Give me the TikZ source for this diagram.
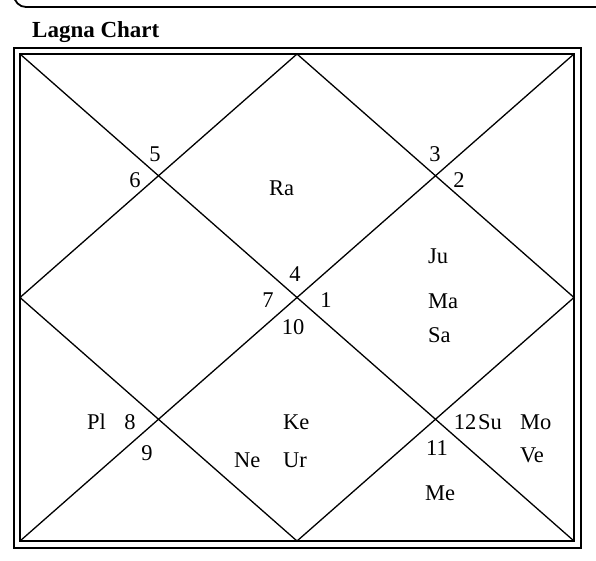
\documentclass[tikz,border=0pt]{standalone}
\usepackage{fontspec}
\setmainfont{Liberation Serif}
\usetikzlibrary{positioning}

\begin{document}
\begin{tikzpicture}[
			x=1pt, y=-1pt,
			node distance=0pt,
			frame/.style={draw, line width=1.3pt},
			chartline/.style={draw, line width=1.3pt, line cap=round},
			housenum/.style={inner sep=0pt, text height=15pt, text depth=0pt, font=\fontsize{22.5}{24}\selectfont},
			planet/.style={housenum, anchor=west},
			title/.style={inner sep=0pt, anchor=base west, font=\fontsize{23}{25}\selectfont\bfseries}
			]
			
			\useasboundingbox (0,0) rectangle (596,560);
			
			% Panel edge at the top
			\begin{scope}
				\clip (0,0) rectangle (596,560);
				\draw[line width=1.8pt, rounded corners=12pt] (14,-40) rectangle (640,7);
			\end{scope}
			
			% Title
			\node[title] (heading) at (32,37) {Lagna Chart};
			
			% Chart corners and side midpoints
			\coordinate (nw) at (20,54);
			\coordinate (ne) at (574,54);
			\coordinate (se) at (574,541);
			\coordinate (sw) at (20,541);
			\coordinate (n) at (297,54);
			\coordinate (e) at (574,297.5);
			\coordinate (s) at (297,541);
			\coordinate (w) at (20,297.5);
			
			% Double frame
			\draw[frame] (14,48) rectangle (581,548);
			\draw[frame] (nw) rectangle (se);
			
			% Diagonals and diamond
			\draw[chartline] (nw) -- (se);
			\draw[chartline] (ne) -- (sw);
			\draw[chartline] (n) -- (e) -- (s) -- (w) -- cycle;
			
			% House numbers
			\node[housenum] (h1) at (326,300) {1};
			\node[housenum] (h2) at (459,180) {2};
			\node[housenum] (h3) at (435,154) {3};
			\node[housenum] (h4) at (295,274) {4};
			\node[housenum] (h5) at (155,154) {5};
			\node[housenum] (h6) at (135,180) {6};
			\node[housenum] (h7) at (268,300) {7};
			\node[housenum] (h8) at (130,422) {8};
			\node[housenum] (h9) at (147,453) {9};
			\node[housenum] (h10) at (293,327) {10};
			\node[housenum] (h11) at (437,448) {11};
			\node[housenum] (h12) at (465,422) {12};
			
			% Planets
			\node[planet] (ra) at (269,188) {Ra};
			\node[planet] (ju) at (428,256) {Ju};
			\node[planet] (ma) at (428,300.5) {Ma};
			\node[planet] (sa) at (428,334.5) {Sa};
			\node[planet, right=1.5pt of h12] (su) {Su};
			\node[planet] (mo) at (520,422) {Mo};
			\node[planet] (ve) at (520,455) {Ve};
			\node[planet] (me) at (425,493) {Me};
			\node[planet] (ke) at (283,422) {Ke};
			\node[planet] (ur) at (283,459.5) {Ur};
			\node[planet] (ne) at (234,459.5) {Ne};
			\node[planet] (pl) at (87,422) {Pl};
			
		\end{tikzpicture}
\end{document}
